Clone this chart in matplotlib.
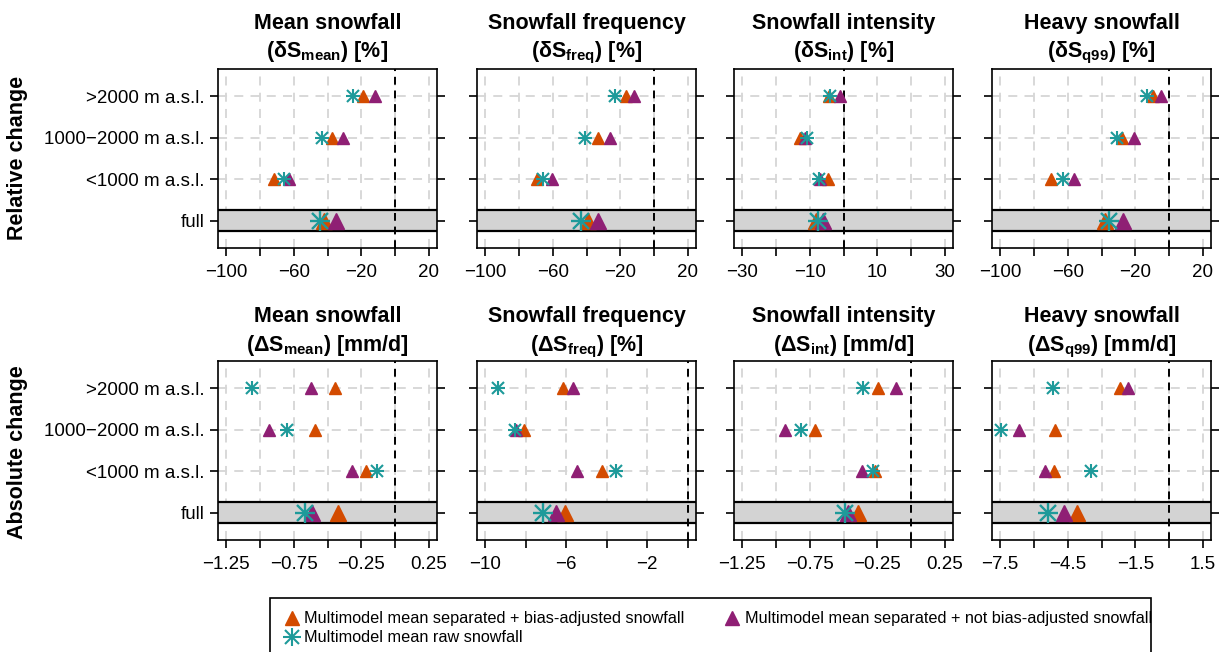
import numpy as np
import matplotlib.pyplot as plt
from matplotlib.lines import Line2D
from matplotlib.patches import Rectangle

plt.rcParams['font.family'] = ['Liberation Sans', 'DejaVu Sans']
plt.rcParams['mathtext.fontset'] = 'custom'
plt.rcParams['mathtext.rm'] = 'Liberation Sans'
plt.rcParams['mathtext.bf'] = 'Liberation Sans:bold'
plt.rcParams['mathtext.it'] = 'Liberation Sans:italic'

# data ##########################################################################
# order of every list: full, <1000, 1000-2000, >2000 m a.s.l.
levels = ['full', '<1000 m a.s.l.', '1000\u22122000 m a.s.l.', '>2000 m a.s.l.']

rel_mean_bias   = [-42.2, -71.5, -37.6, -18.9]
rel_mean_nobias = [-35.1, -62.6, -30.7, -12.1]
rel_mean_raw    = [-44.5, -65.6, -43.0, -24.8]

rel_freq_bias   = [-39.0, -69.1, -33.1, -16.4]
rel_freq_nobias = [-33.1, -60.7, -26.2, -12.1]
rel_freq_raw    = [-43.5, -66.0, -41.0, -23.3]

rel_int_bias    = [-8.2, -4.7, -12.8, -4.4]
rel_int_nobias  = [-6.2, -7.0, -11.5, -1.1]
rel_int_raw     = [-7.5, -7.2, -10.9, -3.9]

rel_q99_bias    = [-37.9, -70.0, -27.9, -9.7]
rel_q99_nobias  = [-27.5, -56.5, -20.6, -4.7]
rel_q99_raw     = [-35.8, -62.5, -30.8, -13.2]

abs_mean_bias   = [-0.421, -0.212, -0.593, -0.446]
abs_mean_nobias = [-0.618, -0.316, -0.933, -0.625]
abs_mean_raw    = [-0.667, -0.131, -0.803, -1.061]

abs_freq_bias   = [-6.06, -4.25, -8.08, -6.16]
abs_freq_nobias = [-6.52, -5.45, -8.46, -5.66]
abs_freq_raw    = [-7.14, -3.56, -8.52, -9.34]

abs_int_bias    = [-0.39, -0.266, -0.711, -0.243]
abs_int_nobias  = [-0.47, -0.36, -0.933, -0.113]
abs_int_raw     = [-0.488, -0.279, -0.815, -0.355]

abs_q99_bias    = [-4.09, -5.10, -5.05, -2.20]
abs_q99_nobias  = [-4.68, -5.51, -6.65, -1.83]
abs_q99_raw     = [-5.36, -3.46, -7.47, -5.14]

titles = ['Mean snowfall', 'Snowfall frequency', 'Snowfall intensity', 'Heavy snowfall']
subs = ['mean', 'freq', 'int', 'q99']
rel_units = ['%', '%', '%', '%']
abs_units = ['mm/d', '%', 'mm/d', 'mm/d']
# axis range (lo, hi, step) per panel
rel_ranges = [(-100, 20, 20), (-100, 20, 20), (-30, 30, 10), (-100, 20, 20)]
abs_ranges = [(-1.25, 0.25, 0.25), (-10, 0, 2), (-1.25, 0.25, 0.25), (-7.5, 1.5, 1.5)]

rel_data = [(rel_mean_bias, rel_mean_nobias, rel_mean_raw),
            (rel_freq_bias, rel_freq_nobias, rel_freq_raw),
            (rel_int_bias, rel_int_nobias, rel_int_raw),
            (rel_q99_bias, rel_q99_nobias, rel_q99_raw)]
abs_data = [(abs_mean_bias, abs_mean_nobias, abs_mean_raw),
            (abs_freq_bias, abs_freq_nobias, abs_freq_raw),
            (abs_int_bias, abs_int_nobias, abs_int_raw),
            (abs_q99_bias, abs_q99_nobias, abs_q99_raw)]
#################################################################################

ORANGE = '#d34b00'
PURPLE = '#8f1f74'
TEAL = '#1e9a9a'
GRID = '#d6d6d6'

W, H = 1230, 652
fig = plt.figure(figsize=(W / 100, H / 100), dpi=100)


def px_axes(left, top, width, height):
    return fig.add_axes([left / W, 1 - (top + height) / H, width / W, height / H])


def fmt(v):
    return ('%g' % v).replace('-', '\u2212')


def draw_panel(ax, data, rng, first):
    bias, nobias, raw = data
    lo, hi, step = rng
    ticks = np.arange(lo, hi + step / 2, step)
    pad = 0.04 * (hi - lo)
    ax.set_xlim(lo - pad, hi + pad)
    ax.set_ylim(0.34, 4.66)
    for t in ticks:
        ax.axvline(t, color=GRID, lw=1.3, ls=(0, (5, 4)), zorder=1)
    for yy in [2, 3, 4]:
        ax.axhline(yy, color=GRID, lw=1.3, ls=(0, (5, 4)), zorder=1)
    ax.axhspan(0.75, 1.25, color='#d3d3d3', lw=0, zorder=2)
    ax.axhline(0.75, color='black', lw=1.6, zorder=3)
    ax.axhline(1.25, color='black', lw=1.6, zorder=3)
    ax.axvline(0, color='black', lw=1.4, ls=(0, (4, 3)), zorder=4)

    y = np.arange(1, 5)
    for vals, col in [(bias, ORANGE), (nobias, PURPLE)]:
        ax.plot(vals[1:], y[1:], ls='none', marker='^', ms=8, color=col, zorder=5)
        ax.plot(vals[:1], y[:1], ls='none', marker='^', ms=11.5, color=col, zorder=5)
    ax.plot(raw[1:], y[1:], ls='none', marker='+', ms=10.5, mew=1.5, color=TEAL, zorder=6)
    ax.plot(raw[1:], y[1:], ls='none', marker='x', ms=8, mew=1.5, color=TEAL, zorder=6)
    ax.plot(raw[:1], y[:1], ls='none', marker='+', ms=15, mew=1.7, color=TEAL, zorder=6)
    ax.plot(raw[:1], y[:1], ls='none', marker='x', ms=11, mew=1.7, color=TEAL, zorder=6)

    ax.set_xticks(ticks)
    ax.set_xticklabels([fmt(t) if i % 2 == 0 else '' for i, t in enumerate(ticks)])
    ax.set_yticks(y)
    ax.set_yticklabels(levels if first else [])
    ax.tick_params(axis='both', direction='out', length=5.5, width=1.2, labelsize=13.5,
                   colors='black')
    ax.tick_params(axis='x', pad=6)
    ax.tick_params(axis='y', left=True, right=True, pad=4)
    for s in ax.spines.values():
        s.set_linewidth(1.2)


lefts = [218, 477, 734, 992]
pw, ph = 219, 179
rows = [(69, rel_data, rel_ranges, rel_units, '\u03b4', 29, 57),
        (361, abs_data, abs_ranges, abs_units, '\u0394', 322, 351)]

for top, data, ranges, units, sym, t1, t2 in rows:
    for j in range(4):
        ax = px_axes(lefts[j], top, pw, ph)
        draw_panel(ax, data[j], ranges[j], j == 0)
        cx = (lefts[j] + pw / 2) / W
        fig.text(cx, 1 - t1 / H, titles[j], ha='center', va='baseline',
                 fontsize=15.5, fontweight='bold')
        unit = units[j].replace('%', r'\%')
        fig.text(cx, 1 - t2 / H,
                 r'$\mathbf{(%sS_{%s})\ [%s]}$' % (sym, subs[j], unit),
                 ha='center', va='baseline', fontsize=15.5)

fig.text(18 / W, 1 - 158 / H, 'Relative change', rotation=90, ha='center', va='center',
         fontsize=15.5, fontweight='bold')
fig.text(18 / W, 1 - 452 / H, 'Absolute change', rotation=90, ha='center', va='center',
         fontsize=15.5, fontweight='bold')

# legend ########################################################################
h_bias = Line2D([], [], ls='none', marker='^', ms=10, color=ORANGE)
h_nobias = Line2D([], [], ls='none', marker='^', ms=10, color=PURPLE)
h_raw = (Line2D([], [], ls='none', marker='+', ms=13, mew=1.5, color=TEAL),
         Line2D([], [], ls='none', marker='x', ms=9.5, mew=1.5, color=TEAL))
leg = fig.legend([h_bias, h_raw, h_nobias],
                 ['Multimodel mean separated + bias-adjusted snowfall',
                  'Multimodel mean raw snowfall',
                  'Multimodel mean separated + not bias-adjusted snowfall'],
                 loc='upper left', bbox_to_anchor=(272 / W, 1 - 600 / H), ncol=2,
                 frameon=False, fontsize=11.7, handlelength=1.0, handletextpad=0.3,
                 columnspacing=2.4, labelspacing=0.25, borderpad=0.2)
fig.patches.append(Rectangle((270 / W, -0.05), (1151 - 270) / W, 0.05 + 1 - 598 / H,
                             transform=fig.transFigure, fill=False, edgecolor='black',
                             lw=1.2))

fig.savefig('out.png', dpi=100)
